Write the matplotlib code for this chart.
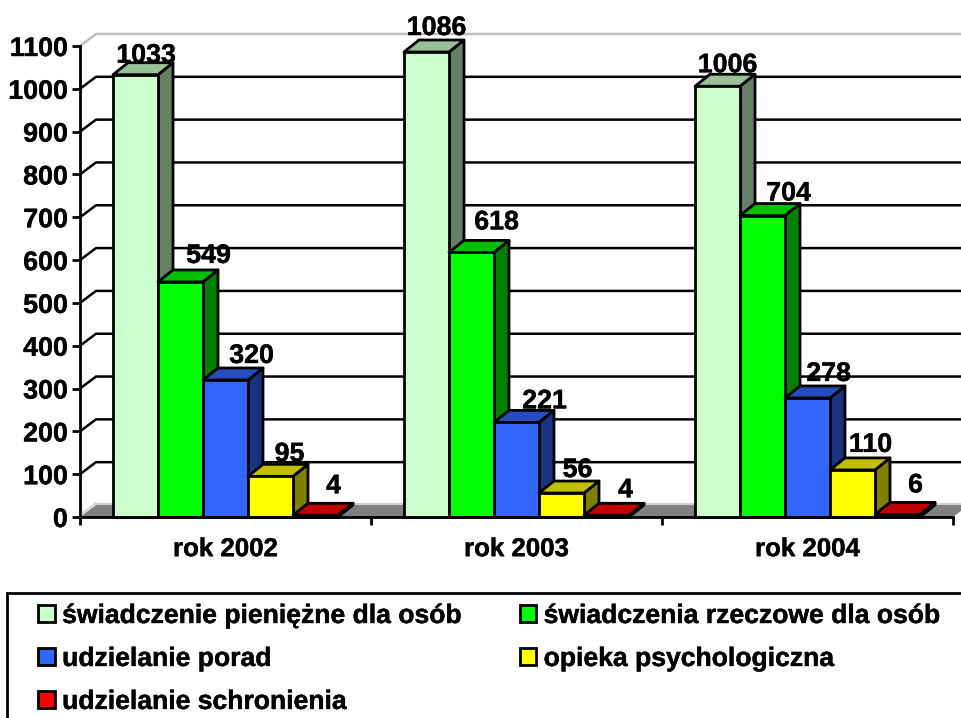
import matplotlib
matplotlib.use("Agg")
import matplotlib.pyplot as plt
import matplotlib.patheffects as pe
from matplotlib.patches import Patch, Polygon, Rectangle

plt.rcParams['font.family'] = ['Liberation Sans', 'DejaVu Sans']
plt.rcParams['font.weight'] = 'bold'

years = ["rok 2002", "rok 2003", "rok 2004"]
series_names = ["świadczenie pieniężne dla osób", "świadczenia rzeczowe dla osób",
                "udzielanie porad", "opieka psychologiczna", "udzielanie schronienia"]
pieniezne = [1033, 1086, 1006]
rzeczowe = [549, 618, 704]
porady = [320, 221, 278]
opieka = [95, 56, 110]
schronienie = [4, 4, 6]
all_series = [pieniezne, rzeczowe, porady, opieka, schronienie]
y_ticks = list(range(0, 1101, 100))

front = ["#CCFFCC", "#00FF00", "#3366FF", "#FFFF00", "#FF0000"]
top = ["#99BF99", "#00BF00", "#264CBF", "#BFBF00", "#BF0000"]
side = ["#668066", "#008000", "#1A3380", "#808000", "#800000"]

# label offsets in pixels from the bar's front-top centre (per series, per year)
label_off = [
    [(10.5, 19), (10, 24), (10, 21)],
    [(28, 26), (25, 30), (26, 22)],
    [(26, 24), (28, 21), (21, 24)],
    [(19, 22), (16, 23), (18, 25)],
    [(18, 29), (19, 25), (18, 29)],
]

W, H = 961, 718
fig = plt.figure(figsize=(W / 100, H / 100), dpi=100)
L, R, B, T = 80, 953, 517, 46
ax = fig.add_axes([L / W, (H - B) / H, (R - L) / W, (B - T) / H])
ax.set_xlim(0, 3)
ax.set_ylim(0, 1100)
for s in ("top", "right"):
    ax.spines[s].set_visible(False)
for s in ("left", "bottom"):
    ax.spines[s].set_linewidth(2.0)
    ax.spines[s].set_zorder(6)

px_x = 3 / (R - L)
px_y = 1100 / (B - T)
DX, DY = 16 * px_x, 12 * px_y
BDX, BDY = 15 * px_x, 12 * px_y
FS = 19.3
heavy = [pe.withStroke(linewidth=0.3, foreground="black")]
EDGE = 2.0

# floor
ax.add_patch(Polygon([(0, 0), (DX, DY), (3 + DX, DY), (3, 0)], closed=True,
                     facecolor="#808080", edgecolor="none", clip_on=False, zorder=1))
ax.plot([DX, 3 + DX], [DY + 1.5 * px_y] * 2, color="#D0D0D0", lw=1.5, clip_on=False, zorder=1)
ax.plot([0, DX], [2 * px_y, DY + 2 * px_y], color="#D0D0D0", lw=1.2, clip_on=False, zorder=1)

# walls and gridlines
for v in y_ticks[1:]:
    color = "#C0C0C0" if v == y_ticks[-1] else "black"
    ax.plot([0, DX, 3 + DX], [v, v + DY, v + DY], color=color, lw=1.8,
            clip_on=False, zorder=1, solid_joinstyle="miter")

# bars
bw = 45 * px_x
start = 33 * px_x
for g in range(len(years)):
    for i, vals in enumerate(all_series):
        x0 = g + start + i * bw
        v = vals[g]
        z = 2 + 0.01 * i
        ax.add_patch(Polygon([(x0 + bw, 0), (x0 + bw + BDX, BDY), (x0 + bw + BDX, v + BDY), (x0 + bw, v)],
                             closed=True, facecolor=side[i], edgecolor="black", lw=EDGE,
                             joinstyle="round", clip_on=False, zorder=z))
        ax.add_patch(Polygon([(x0, v), (x0 + BDX, v + BDY), (x0 + bw + BDX, v + BDY), (x0 + bw, v)],
                             closed=True, facecolor=top[i], edgecolor="black", lw=EDGE,
                             joinstyle="round", clip_on=False, zorder=z))
        ax.bar(x0, v, width=bw, align="edge", color=front[i], edgecolor="black", lw=EDGE,
               clip_on=False, zorder=z)
        ox, oy = label_off[i][g]
        ax.annotate(str(v), xy=(x0 + bw / 2, v), xytext=(ox, oy), textcoords="offset pixels",
                    ha="center", va="center", fontsize=FS, fontweight="bold", color="black",
                    zorder=10, annotation_clip=False, path_effects=heavy)

# axes ticks
ax.set_yticks(y_ticks)
ax.set_yticklabels([str(v) for v in y_ticks], fontsize=FS, fontweight="bold", path_effects=heavy)
ax.tick_params(axis="y", length=5.8, width=2.0, pad=3)
ax.set_xticks([0, 1, 2, 3])
ax.set_xticklabels([])
ax.tick_params(axis="x", which="major", length=5.8, width=2.0)
ax.set_xticks([0.5, 1.5, 2.5], minor=True)
ax.set_xticklabels(years, minor=True, fontsize=18.6, fontweight="bold", path_effects=heavy)
ax.tick_params(axis="x", which="minor", length=0, pad=14.5)

# legend
fig.add_artist(Rectangle((7 / W, -20 / H), 1000 / W, (H - 593 + 20) / H, transform=fig.transFigure,
                         facecolor="white", edgecolor="black", lw=2.0))
order = [0, 2, 4, 1, 3]
handles = [Patch(facecolor=front[i], edgecolor="black", lw=2.0, label=series_names[i]) for i in order]
leg = fig.legend(handles=handles, ncol=2, loc="upper left",
                 bbox_to_anchor=(38 / W, (H - 603) / H), bbox_transform=fig.transFigure,
                 frameon=False, fontsize=19.1, borderpad=0, borderaxespad=0,
                 handlelength=0.64, handleheight=0.64, handletextpad=0.27,
                 labelspacing=0.64, columnspacing=2.2)
for t in leg.get_texts():
    t.set_fontweight("bold")
    t.set_path_effects(heavy)

fig.savefig("out.png", dpi=100)
